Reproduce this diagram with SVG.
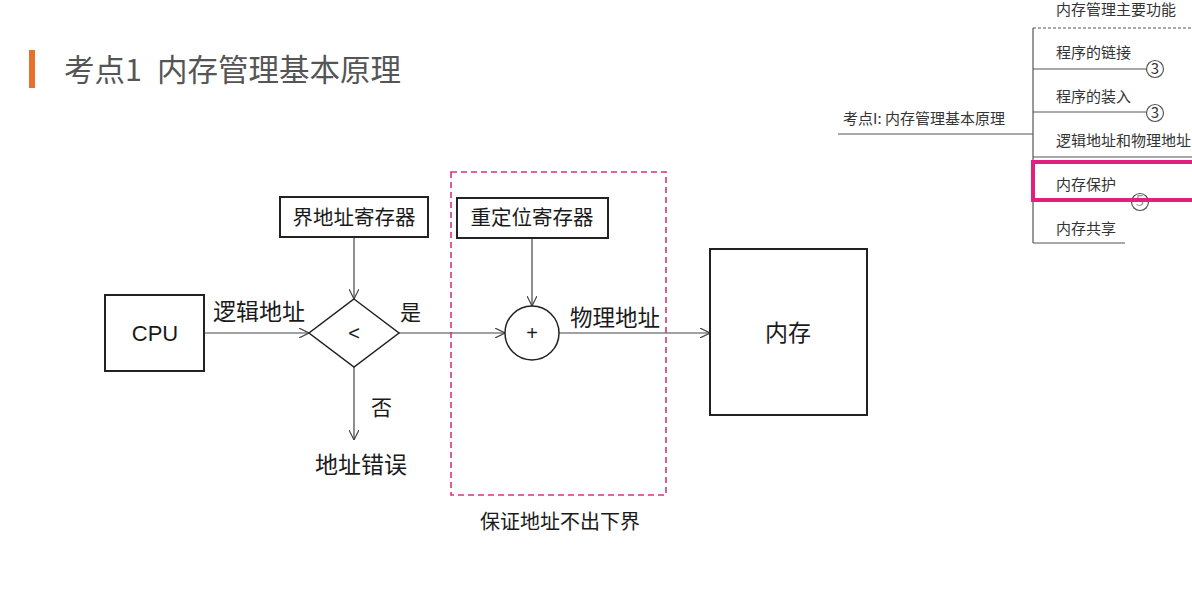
<svg xmlns="http://www.w3.org/2000/svg" width="1192" height="595" viewBox="0 0 1192 595">
<defs>
<style>
.t{font-family:"Noto Sans CJK SC","Liberation Sans",sans-serif;fill:#1a1a1a}
.box{fill:#fff;stroke:#222;stroke-width:2}
.ln{stroke:#444;stroke-width:1.2;fill:none}
.mm{font-family:"Noto Sans CJK SC","Liberation Sans",sans-serif;fill:#333;font-size:15px}
.mml{stroke:#555;stroke-width:1.2;fill:none}
</style>
<marker id="ar" viewBox="0 0 10 10" refX="10" refY="5" markerWidth="10" markerHeight="10" markerUnits="userSpaceOnUse" orient="auto">
<path d="M0,0 L10,5 L0,10" fill="none" stroke="#444" stroke-width="1.2"/>
</marker>
</defs>
<rect width="1192" height="595" fill="#fff"/>
<g id="title">
<rect x="29" y="50" width="6" height="38" fill="#e8702a"/>
<text x="64" y="81" class="t" font-size="30.5" style="fill:#555">考点1</text>
<text x="157" y="81" class="t" font-size="30.5" style="fill:#555">内存管理基本原理</text>
</g>
<g id="mindmap">
<text x="1056" y="15" class="mm">内存管理主要功能</text>
<line x1="1033" y1="28" x2="1192" y2="28" class="mml" stroke-dasharray="3,2"/>
<line x1="1033" y1="28" x2="1033" y2="243" class="mml"/>
<text x="1056" y="58" class="mm">程序的链接</text>
<line x1="1033" y1="69" x2="1146" y2="69" class="mml"/>
<circle cx="1155" cy="69" r="8.5" class="mml"/>
<text x="1155" y="73.5" class="mm" font-size="11" text-anchor="middle">3</text>
<text x="1056" y="102" class="mm">程序的装入</text>
<line x1="1033" y1="112" x2="1146" y2="112" class="mml"/>
<circle cx="1155" cy="113" r="8.5" class="mml"/>
<text x="1155" y="117.5" class="mm" font-size="11" text-anchor="middle">3</text>
<text x="843" y="124" class="mm">考点I: 内存管理基本原理</text>
<line x1="838" y1="134" x2="1033" y2="134" class="mml"/>
<text x="1056" y="146" class="mm">逻辑地址和物理地址</text>
<line x1="1033" y1="157" x2="1192" y2="157" class="mml"/>
<text x="1056" y="190" class="mm">内存保护</text>
<circle cx="1140" cy="202" r="8.5" class="mml"/>
<text x="1140" y="206" class="mm" font-size="10" text-anchor="middle" style="fill:#999">5</text>
<rect x="1033" y="162" width="165" height="38" fill="none" stroke="#e01f7e" stroke-width="4"/>
<text x="1056" y="234" class="mm">内存共享</text>
<line x1="1033" y1="243" x2="1125" y2="243" class="mml"/>
</g>
<g id="connectors">
<line x1="204" y1="333" x2="309" y2="333" class="ln" marker-end="url(#ar)"/>
<line x1="354" y1="237" x2="354" y2="299" class="ln" marker-end="url(#ar)"/>
<line x1="399" y1="333" x2="505" y2="333" class="ln" marker-end="url(#ar)"/>
<line x1="354" y1="367" x2="354" y2="440" class="ln" marker-end="url(#ar)"/>
<line x1="532" y1="238" x2="532" y2="306" class="ln" marker-end="url(#ar)"/>
<line x1="559" y1="333" x2="710" y2="333" class="ln" marker-end="url(#ar)"/>
<text x="213" y="320" class="t" font-size="23">逻辑地址</text>
<text x="400" y="320" class="t" font-size="21">是</text>
<text x="371" y="415" class="t" font-size="21">否</text>
<text x="570" y="326" class="t" font-size="22.5">物理地址</text>
</g>
<g id="group-box">
<rect x="451" y="172" width="215" height="323" fill="none" stroke="#d2357f" stroke-width="1.6" stroke-dasharray="6,4"/>
<text x="560" y="529" class="t" font-size="20" text-anchor="middle">保证地址不出下界</text>
</g>
<g id="cpu">
<rect x="105" y="295" width="99" height="76" class="box"/>
<text x="155" y="341" font-family="Liberation Sans, sans-serif" fill="#1a1a1a" font-size="22" text-anchor="middle">CPU</text>
</g>
<g id="bound-reg">
<rect x="280" y="197" width="148" height="40" class="box"/>
<text x="354" y="225" class="t" font-size="20.5" text-anchor="middle">界地址寄存器</text>
</g>
<g id="compare">
<polygon points="354,299 399,333 354,367 309,333" fill="#fff" stroke="#222" stroke-width="1.5"/>
<text x="354" y="340" font-family="Liberation Sans, sans-serif" fill="#1a1a1a" font-size="20" text-anchor="middle">&lt;</text>
</g>
<g id="error">
<text x="361" y="473" class="t" font-size="23" text-anchor="middle">地址错误</text>
</g>
<g id="reloc-reg">
<rect x="457" y="198" width="151" height="40" class="box"/>
<text x="532" y="225" class="t" font-size="20.5" text-anchor="middle">重定位寄存器</text>
</g>
<g id="adder">
<circle cx="532" cy="333" r="27" fill="#fff" stroke="#222" stroke-width="1.5"/>
<text x="532" y="340" font-family="Liberation Sans, sans-serif" fill="#1a1a1a" font-size="20" text-anchor="middle">+</text>
</g>
<g id="memory">
<rect x="710" y="249" width="157" height="166" class="box"/>
<text x="788" y="341" class="t" font-size="23" text-anchor="middle">内存</text>
</g>
</svg>
